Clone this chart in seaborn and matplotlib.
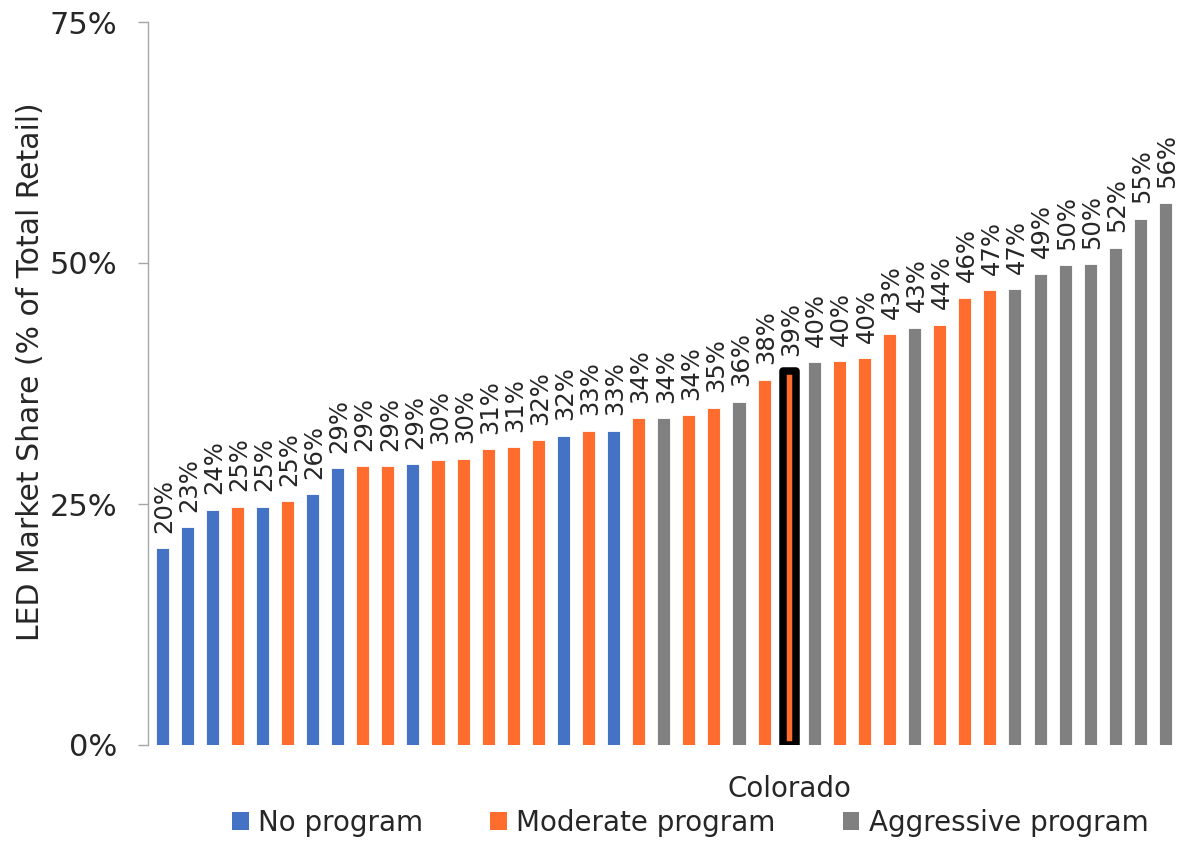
import matplotlib
matplotlib.use("Agg")
import matplotlib.pyplot as plt
import matplotlib.transforms as mtransforms
from matplotlib.patches import Patch
import numpy as np
import pandas as pd
import seaborn as sns

# LED market share by state, sorted ascending (percent of total retail)
shares = [20.4, 22.6, 24.4, 24.7, 24.7, 25.3, 26.0, 28.7, 28.9, 28.9,
          29.1, 29.6, 29.7, 30.7, 30.9, 31.6, 32.1, 32.6, 32.6, 33.9,
          33.9, 34.2, 35.0, 35.6, 37.9, 38.8, 39.7, 39.8, 40.1, 42.6,
          43.3, 43.6, 46.4, 47.2, 47.3, 48.9, 49.8, 49.9, 51.6, 54.6,
          56.2]
programs = ["No program", "No program", "No program", "Moderate program",
            "No program", "Moderate program", "No program", "No program",
            "Moderate program", "Moderate program", "No program",
            "Moderate program", "Moderate program", "Moderate program",
            "Moderate program", "Moderate program", "No program",
            "Moderate program", "No program", "Moderate program",
            "Aggressive program", "Moderate program", "Moderate program",
            "Aggressive program", "Moderate program", "Moderate program",
            "Aggressive program", "Moderate program", "Moderate program",
            "Moderate program", "Aggressive program", "Moderate program",
            "Moderate program", "Moderate program", "Aggressive program",
            "Aggressive program", "Aggressive program", "Aggressive program",
            "Aggressive program", "Aggressive program", "Aggressive program"]
program_levels = ["No program", "Moderate program", "Aggressive program"]
program_colors = ["#4472C4", "#FF6D2E", "#808080"]
highlight_label = "Colorado"
highlight_index = 25
y_ticks = [0, 25, 50, 75]

df = pd.DataFrame({
    "rank": [str(i) for i in range(len(shares))],
    "share": shares,
    "program": programs,
})

sns.set_theme(style="white")
plt.rcParams["font.family"] = ["DejaVu Sans"]

fig = plt.figure(figsize=(11.8, 8.41), dpi=100)
ax = fig.add_axes([148 / 1180, 1 - 745 / 841, 1030 / 1180, 723 / 841])

palette = dict(zip(program_levels, program_colors))
sns.barplot(data=df, x="rank", y="share", hue="program", order=list(df["rank"]),
            hue_order=program_levels, palette=palette, dodge=False,
            width=0.52, saturation=1, legend=False, ax=ax,
            edgecolor="white", linewidth=0.6)

# Collect bars in x order and label each with its value
bars = sorted([p for p in ax.patches if p.get_height() > 0],
              key=lambda p: p.get_x())
for bar, val in zip(bars, shares):
    ax.text(bar.get_x() + bar.get_width() / 2 + 0.08, val + 1.6,
            f"{val:.0f}%", rotation=90, ha="center", va="bottom",
            fontsize=17.5, color="#262626")

# Outline the highlighted state
hb = bars[highlight_index]
hb.set_edgecolor("black")
hb.set_linewidth(5.4)
hb.set_joinstyle("round")
hb.set_zorder(5)

trans = mtransforms.blended_transform_factory(ax.transData, ax.transAxes)
ax.text(hb.get_x() + hb.get_width() / 2, -0.061, highlight_label,
        transform=trans, ha="center", va="center", fontsize=20,
        color="#262626")

ax.set_xlim(-0.56, len(shares) - 0.5)
ax.set_ylim(0, 75)
ax.set_yticks(y_ticks)
ax.set_yticklabels([f"{t}%" for t in y_ticks], fontsize=22, color="#262626")
ax.set_xticks([])
ax.set_xlabel("")
ax.set_ylabel("LED Market Share (% of Total Retail)", fontsize=21.5,
              color="#262626")
ax.yaxis.set_label_coords(-0.1, 0.517)
ax.tick_params(axis="y", which="both", left=True, length=7, width=1,
               color="#A6A6A6", pad=15)
for side in ["top", "right", "bottom"]:
    ax.spines[side].set_visible(False)
ax.spines["left"].set_color("#A6A6A6")
ax.spines["left"].set_linewidth(1)

handles = [Patch(facecolor=c, edgecolor="none") for c in program_colors]
fig.legend(handles, program_levels, loc="center",
           bbox_to_anchor=(0.585, 1 - 823 / 841), ncol=3, frameon=False,
           fontsize=20, handlelength=0.6, handleheight=0.6,
           handletextpad=0.35, columnspacing=2.4, labelcolor="#262626")

fig.savefig("out.png", dpi=100)
